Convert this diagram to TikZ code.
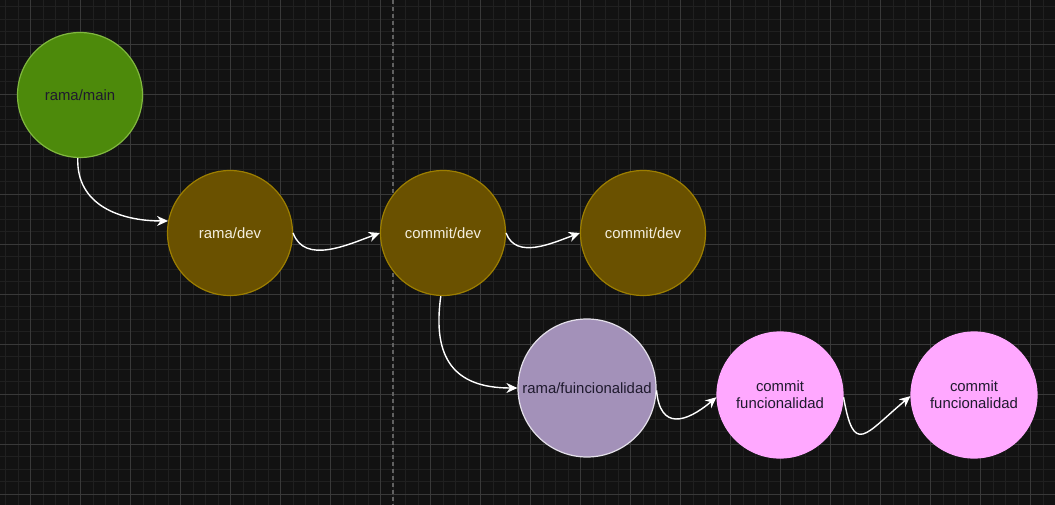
\documentclass[tikz,border=0pt]{standalone}
\usepackage{fontspec}
\setmainfont{Liberation Sans}
\usetikzlibrary{arrows.meta}
\definecolor{bg}{HTML}{121212}
\definecolor{minorgrid}{HTML}{202020}
\definecolor{majorgrid}{HTML}{393939}
\definecolor{mainfill}{HTML}{4D8A0B}
\definecolor{mainline}{HTML}{80B83E}
\definecolor{devfill}{HTML}{6A5100}
\definecolor{devline}{HTML}{9C7E00}
\definecolor{featfill}{HTML}{A391B9}
\definecolor{featline}{HTML}{E4E0EA}
\definecolor{cfill}{HTML}{FFA8FF}
\definecolor{darktext}{HTML}{1F1A2E}
\definecolor{lighttext}{HTML}{F4EFE0}
\begin{document}
\begin{tikzpicture}[x=1pt,y=1pt,
  gitnode/.style={circle,inner sep=0pt,minimum size=125pt,line width=1.2pt,
    font=\fontsize{14.9}{17}\selectfont,align=center},
  link/.style={white,line width=1.4pt,-{Stealth[length=11pt,width=10pt,inset=3.5pt]}}]
\fill[bg] (0,0) rectangle (1055,-505);
\useasboundingbox (0,0) rectangle (1055,-505);

% grid
\foreach \i in {0,...,84} \draw[minorgrid,line width=0.8pt] ({5.7+12.5*\i},0) -- ++(0,-505);
\foreach \j in {0,...,39} \draw[minorgrid,line width=0.8pt] (0,{-6.5-12.5*\j}) -- ++(1055,0);
\foreach \i in {0,...,20} \draw[majorgrid,line width=0.9pt] ({30.7+50*\i},0) -- ++(0,-505);
\foreach \j in {0,...,9} \draw[majorgrid,line width=0.9pt] (0,{-44-50*\j}) -- ++(1055,0);
\draw[majorgrid!80!white,line width=1.2pt,dash pattern=on 4pt off 3pt] (393,0) -- (393,-505);

% nodes
\node[gitnode,fill=mainfill,draw=mainline,text=darktext] (main) at (80,-95) {rama/main};
\node[gitnode,fill=devfill,draw=devline,text=lighttext] (dev) at (230,-233) {rama/dev};
\node[gitnode,fill=devfill,draw=devline,text=lighttext] (devA) at (443,-233) {commit/dev};
\node[gitnode,fill=devfill,draw=devline,text=lighttext] (devB) at (643,-233) {commit/dev};
\node[gitnode,minimum size=138pt,fill=featfill,draw=featline,text=darktext] (feat) at (587,-388) {rama/fuincionalidad};
\node[gitnode,minimum size=126pt,fill=cfill,draw=cfill,text=darktext] (featA) at (780,-395) {commit\\funcionalidad};
\node[gitnode,minimum size=126pt,fill=cfill,draw=cfill,text=darktext] (featB) at (974,-395) {commit\\funcionalidad};

% links
\draw[link] (main.-92) to[out=-92,in=180,looseness=1.1] (dev.169);
\draw[link] (dev.east) to[out=-70,in=200] (devA.west);
\draw[link] (devA.east) to[out=-70,in=200] (devB.west);
\draw[link] (devA.-92) to[out=-98,in=180,looseness=1.35] (feat.west);
\draw[link] (feat.-2) to[out=-85,in=220,looseness=1.7] (featA.182);
\draw[link] (featA.-2) to[out=-80,in=220,looseness=2.3] (featB.181);
\end{tikzpicture}
\end{document}
